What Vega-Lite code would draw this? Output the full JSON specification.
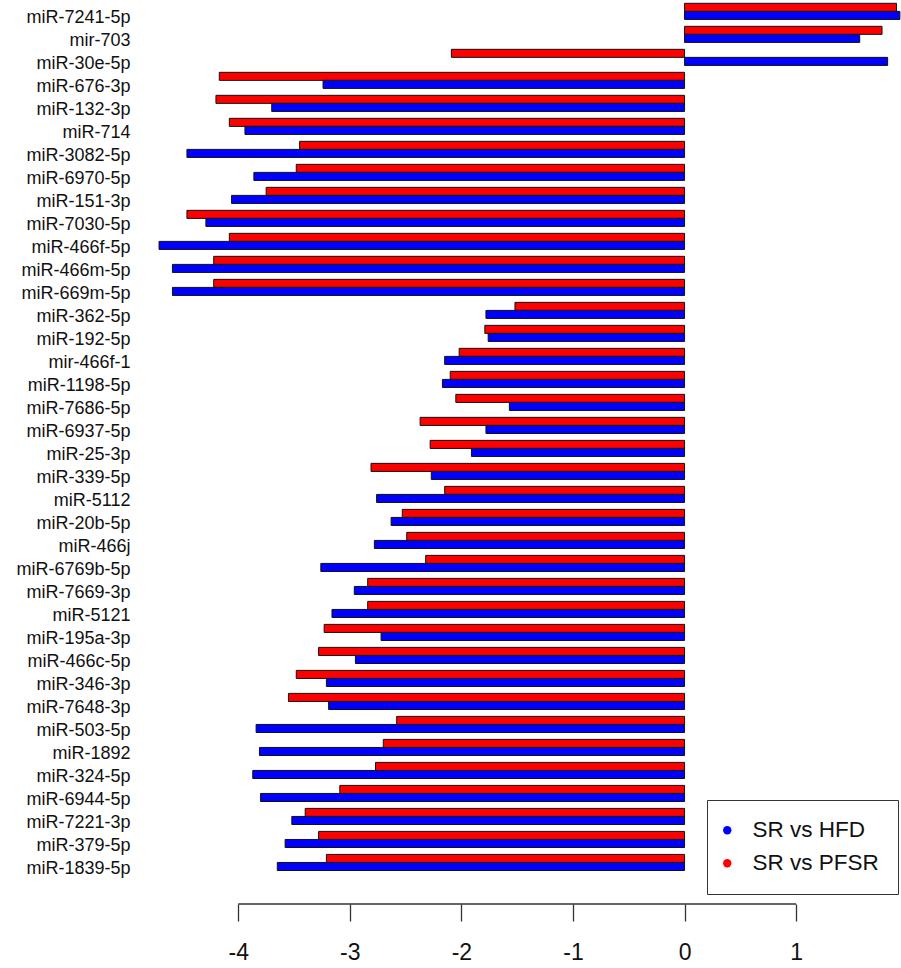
{
  "$schema": "https://vega.github.io/schema/vega-lite/v6.json",
  "width": 752,
  "height": 904,
  "autosize": "none",
  "padding": {"left": 149, "top": 0, "right": 0, "bottom": 64},
  "background": "white",
  "config": {"view": {"stroke": null}, "font": "Liberation Sans"},
  "layer": [
    {
      "data": {"values": [
        {"mir": "miR-7241-5p", "comparison": "SR vs PFSR", "value": 1.90},
        {"mir": "miR-7241-5p", "comparison": "SR vs HFD", "value": 1.93},
        {"mir": "mir-703", "comparison": "SR vs PFSR", "value": 1.77},
        {"mir": "mir-703", "comparison": "SR vs HFD", "value": 1.57},
        {"mir": "miR-30e-5p", "comparison": "SR vs PFSR", "value": -2.09},
        {"mir": "miR-30e-5p", "comparison": "SR vs HFD", "value": 1.82},
        {"mir": "miR-676-3p", "comparison": "SR vs PFSR", "value": -4.17},
        {"mir": "miR-676-3p", "comparison": "SR vs HFD", "value": -3.24},
        {"mir": "miR-132-3p", "comparison": "SR vs PFSR", "value": -4.20},
        {"mir": "miR-132-3p", "comparison": "SR vs HFD", "value": -3.70},
        {"mir": "miR-714", "comparison": "SR vs PFSR", "value": -4.08},
        {"mir": "miR-714", "comparison": "SR vs HFD", "value": -3.94},
        {"mir": "miR-3082-5p", "comparison": "SR vs PFSR", "value": -3.45},
        {"mir": "miR-3082-5p", "comparison": "SR vs HFD", "value": -4.46},
        {"mir": "miR-6970-5p", "comparison": "SR vs PFSR", "value": -3.48},
        {"mir": "miR-6970-5p", "comparison": "SR vs HFD", "value": -3.86},
        {"mir": "miR-151-3p", "comparison": "SR vs PFSR", "value": -3.75},
        {"mir": "miR-151-3p", "comparison": "SR vs HFD", "value": -4.06},
        {"mir": "miR-7030-5p", "comparison": "SR vs PFSR", "value": -4.46},
        {"mir": "miR-7030-5p", "comparison": "SR vs HFD", "value": -4.29},
        {"mir": "miR-466f-5p", "comparison": "SR vs PFSR", "value": -4.08},
        {"mir": "miR-466f-5p", "comparison": "SR vs HFD", "value": -4.71},
        {"mir": "miR-466m-5p", "comparison": "SR vs PFSR", "value": -4.22},
        {"mir": "miR-466m-5p", "comparison": "SR vs HFD", "value": -4.59},
        {"mir": "miR-669m-5p", "comparison": "SR vs PFSR", "value": -4.22},
        {"mir": "miR-669m-5p", "comparison": "SR vs HFD", "value": -4.59},
        {"mir": "miR-362-5p", "comparison": "SR vs PFSR", "value": -1.52},
        {"mir": "miR-362-5p", "comparison": "SR vs HFD", "value": -1.78},
        {"mir": "miR-192-5p", "comparison": "SR vs PFSR", "value": -1.79},
        {"mir": "miR-192-5p", "comparison": "SR vs HFD", "value": -1.76},
        {"mir": "mir-466f-1", "comparison": "SR vs PFSR", "value": -2.02},
        {"mir": "mir-466f-1", "comparison": "SR vs HFD", "value": -2.15},
        {"mir": "miR-1198-5p", "comparison": "SR vs PFSR", "value": -2.10},
        {"mir": "miR-1198-5p", "comparison": "SR vs HFD", "value": -2.17},
        {"mir": "miR-7686-5p", "comparison": "SR vs PFSR", "value": -2.05},
        {"mir": "miR-7686-5p", "comparison": "SR vs HFD", "value": -1.57},
        {"mir": "miR-6937-5p", "comparison": "SR vs PFSR", "value": -2.37},
        {"mir": "miR-6937-5p", "comparison": "SR vs HFD", "value": -1.78},
        {"mir": "miR-25-3p", "comparison": "SR vs PFSR", "value": -2.28},
        {"mir": "miR-25-3p", "comparison": "SR vs HFD", "value": -1.91},
        {"mir": "miR-339-5p", "comparison": "SR vs PFSR", "value": -2.81},
        {"mir": "miR-339-5p", "comparison": "SR vs HFD", "value": -2.27},
        {"mir": "miR-5112", "comparison": "SR vs PFSR", "value": -2.15},
        {"mir": "miR-5112", "comparison": "SR vs HFD", "value": -2.76},
        {"mir": "miR-20b-5p", "comparison": "SR vs PFSR", "value": -2.53},
        {"mir": "miR-20b-5p", "comparison": "SR vs HFD", "value": -2.63},
        {"mir": "miR-466j", "comparison": "SR vs PFSR", "value": -2.49},
        {"mir": "miR-466j", "comparison": "SR vs HFD", "value": -2.78},
        {"mir": "miR-6769b-5p", "comparison": "SR vs PFSR", "value": -2.32},
        {"mir": "miR-6769b-5p", "comparison": "SR vs HFD", "value": -3.26},
        {"mir": "miR-7669-3p", "comparison": "SR vs PFSR", "value": -2.84},
        {"mir": "miR-7669-3p", "comparison": "SR vs HFD", "value": -2.96},
        {"mir": "miR-5121", "comparison": "SR vs PFSR", "value": -2.84},
        {"mir": "miR-5121", "comparison": "SR vs HFD", "value": -3.16},
        {"mir": "miR-195a-3p", "comparison": "SR vs PFSR", "value": -3.23},
        {"mir": "miR-195a-3p", "comparison": "SR vs HFD", "value": -2.72},
        {"mir": "miR-466c-5p", "comparison": "SR vs PFSR", "value": -3.28},
        {"mir": "miR-466c-5p", "comparison": "SR vs HFD", "value": -2.95},
        {"mir": "miR-346-3p", "comparison": "SR vs PFSR", "value": -3.48},
        {"mir": "miR-346-3p", "comparison": "SR vs HFD", "value": -3.21},
        {"mir": "miR-7648-3p", "comparison": "SR vs PFSR", "value": -3.55},
        {"mir": "miR-7648-3p", "comparison": "SR vs HFD", "value": -3.19},
        {"mir": "miR-503-5p", "comparison": "SR vs PFSR", "value": -2.58},
        {"mir": "miR-503-5p", "comparison": "SR vs HFD", "value": -3.84},
        {"mir": "miR-1892", "comparison": "SR vs PFSR", "value": -2.70},
        {"mir": "miR-1892", "comparison": "SR vs HFD", "value": -3.81},
        {"mir": "miR-324-5p", "comparison": "SR vs PFSR", "value": -2.77},
        {"mir": "miR-324-5p", "comparison": "SR vs HFD", "value": -3.87},
        {"mir": "miR-6944-5p", "comparison": "SR vs PFSR", "value": -3.09},
        {"mir": "miR-6944-5p", "comparison": "SR vs HFD", "value": -3.80},
        {"mir": "miR-7221-3p", "comparison": "SR vs PFSR", "value": -3.40},
        {"mir": "miR-7221-3p", "comparison": "SR vs HFD", "value": -3.52},
        {"mir": "miR-379-5p", "comparison": "SR vs PFSR", "value": -3.28},
        {"mir": "miR-379-5p", "comparison": "SR vs HFD", "value": -3.58},
        {"mir": "miR-1839-5p", "comparison": "SR vs PFSR", "value": -3.21},
        {"mir": "miR-1839-5p", "comparison": "SR vs HFD", "value": -3.65}
      ]},
      "mark": {"type": "bar", "stroke": "#111", "strokeWidth": 1},
      "encoding": {
        "y": {
          "field": "mir", "type": "nominal", "sort": null,
          "scale": {"paddingInner": 0.3, "paddingOuter": 0.8, "align": 0.09},
          "axis": {"title": null, "domain": false, "ticks": false, "tickSize": 0, "labelPadding": 19, "labelFontSize": 18, "labelColor": "#111", "labelOffset": 6.5, "labelFont": "Liberation Sans"}
        },
        "yOffset": {"field": "comparison", "type": "nominal", "sort": ["SR vs PFSR", "SR vs HFD"]},
        "x": {
          "field": "value", "type": "quantitative",
          "scale": {"domain": [-4.8, 1.94], "nice": false, "zero": false},
          "axis": {"title": null, "values": [-4, -3, -2, -1, 0, 1], "labelExpr": "'' + datum.value", "domain": false, "grid": false, "tickSize": 17, "tickWidth": 1.3, "tickColor": "#333", "labelPadding": 20, "labelFontSize": 23, "labelColor": "#111", "labelFont": "Liberation Sans"}
        },
        "color": {
          "field": "comparison", "type": "nominal",
          "scale": {"domain": ["SR vs HFD", "SR vs PFSR"], "range": ["#0000FF", "#FF0000"]},
          "legend": {
            "title": null, "orient": "none", "legendX": 558, "legendY": 800,
            "symbolType": "circle", "symbolSize": 70, "symbolStrokeWidth": 0, "symbolOffset": -10,
            "labelFontSize": 22.5, "labelColor": "#111", "labelFont": "Liberation Sans", "labelOffset": 14,
            "padding": 19, "rowPadding": 10, "strokeColor": "#333", "fillColor": "white"
          }
        }
      }
    },
    {
      "data": {"values": [{"start": -4, "end": 1}]},
      "mark": {"type": "rule", "color": "#333", "strokeWidth": 1.3},
      "encoding": {
        "x": {"field": "start", "type": "quantitative"},
        "x2": {"field": "end"},
        "y": {"value": "height"}
      }
    }
  ]
}
